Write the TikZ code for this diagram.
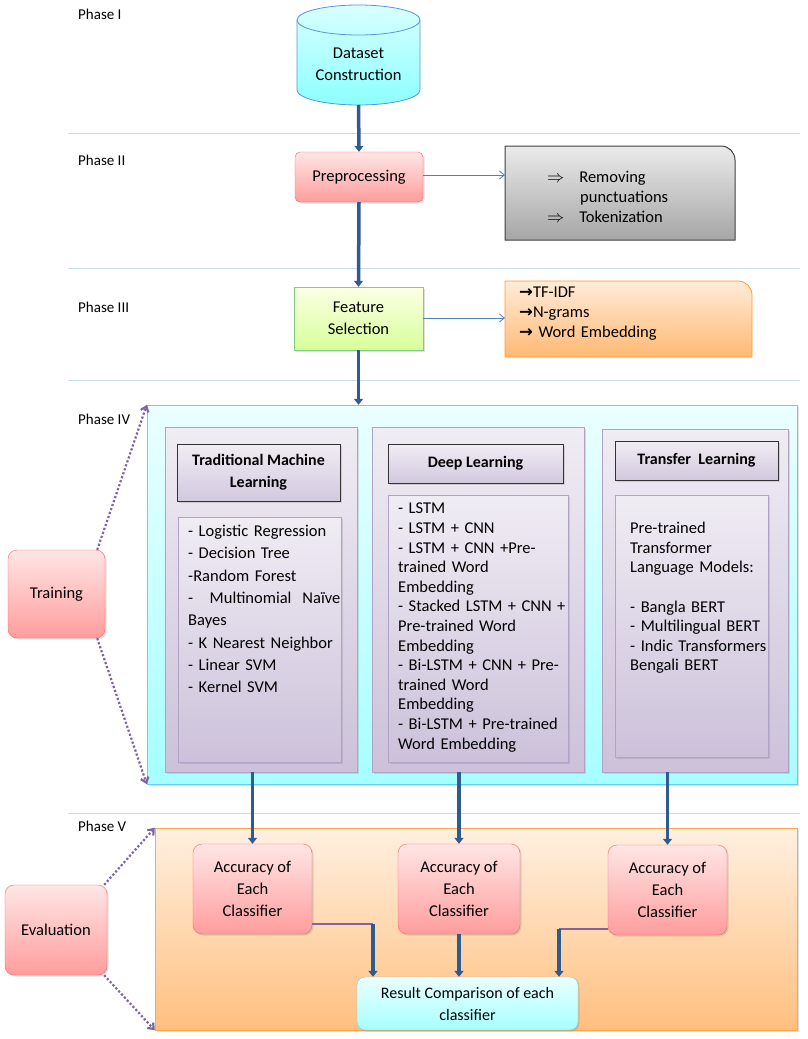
\documentclass[tikz,border=0pt]{standalone}
\usepackage{fontspec}
\setmainfont{Carlito}
\usetikzlibrary{arrows.meta,shadows,calc}
\definecolor{flow}{HTML}{2F5B8E}
\definecolor{sep}{HTML}{C9DCF0}
\definecolor{thin}{HTML}{4F81BD}
\definecolor{purp}{HTML}{8064A2}
\begin{document}
\begin{tikzpicture}[x=1pt,y=-1pt,font=\fontsize{16.5}{20}\selectfont,
  box/.style={draw,inner sep=2pt,align=center,drop shadow={opacity=0.25,shadow xshift=1.5pt,shadow yshift=-1.5pt}},
  redbox/.style={box,rounded corners=9pt,draw=red!50!pink,top color=red!10,bottom color=red!40!pink!70},
  purpbox/.style={box,draw=purp!60,top color=purp!12,bottom color=purp!40},
  hdr/.style={box,draw=black!80,line width=1pt,top color=purp!12,bottom color=purp!35,font=\fontsize{16}{22}\selectfont\bfseries},
  listtxt/.style={align=left,anchor=north west,inner sep=0pt,text width=#1},
  flowarr/.style={draw=flow,line width=3.5pt,-{Triangle[length=6pt,width=9pt]}},
  thinarr/.style={draw=thin,line width=0.8pt,-{Straight Barb[length=5pt,width=8pt]}},
  dotarr/.style={draw=purp,line width=2.2pt,dotted,-{Straight Barb[length=5pt,width=8pt]}},
  phase/.style={anchor=north west,inner sep=0pt,font=\fontsize{15}{18}\selectfont}]
\useasboundingbox (0,0) rectangle (807,1039);
% separators
\foreach \y in {133,268,380,813} \draw[sep,line width=0.8pt] (68,\y) -- (800,\y);
\node[phase] (p1) at (78,9) {Phase I};
\node[phase] (p2) at (78,155) {Phase II};
\node[phase] (p3) at (78,302) {Phase III};
\node[phase] (p4) at (78,414) {Phase IV};
\node[phase] (p5) at (78,821) {Phase V};
% cylinder
\shade[top color=cyan!15,bottom color=cyan!45,draw=cyan!60!blue!70,line width=0.8pt]
  (297,20) -- (297,90) arc[x radius=61.5,y radius=15,start angle=180,end angle=0] -- (420,20) arc[x radius=61.5,y radius=15,start angle=0,end angle=-180] -- cycle;
\draw[cyan!60!blue!70,line width=0.8pt] (297,20) arc[x radius=61.5,y radius=15,start angle=180,end angle=0];
\node[inner sep=0pt,align=center,font=\fontsize{16.5}{22}\selectfont] (ds) at (358.5,64) {Dataset\\Construction};
\coordinate (dsb) at (358.5,105);
% preprocessing
\node[redbox,minimum width=128pt,minimum height=50pt,rounded corners=5pt] (pre) at (359,177) {Preprocessing};
\shade[top color=black!8,bottom color=black!35,draw=black!75,line width=1pt]
  (505,240) -- (505,146) [rounded corners=14pt] -- (735,146) [sharp corners] -- (735,240) -- cycle;
\node[listtxt=200pt] (gray) at (547,171) {$\Rightarrow$\hspace{0.9em}Removing\\\hspace{2.0em}punctuations\\$\Rightarrow$\hspace{0.9em}Tokenization};
\coordinate (grayw) at (505,175);
\draw[thinarr] (pre.east |- grayw) -- (grayw);
\draw[flowarr] (dsb) -- (pre.north);
% feature selection
\node[box,draw=green!60!black!50,top color=green!8!yellow!10,bottom color=green!40!yellow!40,minimum width=129pt,minimum height=63pt,font=\fontsize{16.5}{22}\selectfont] (fs) at (358.5,318.5) {Feature\\Selection};
\draw[flowarr] (pre.south) -- (fs.north);
\shade[top color=orange!15,bottom color=orange!55,draw=orange!80,line width=0.8pt]
  (505,357) -- (505,281) [rounded corners=14pt] -- (752,281) [sharp corners] -- (752,357) -- cycle;
\node[listtxt=220pt] (tf) at (519,287) {{\fontspec{DejaVu Sans}\bfseries →}TF-IDF\\{\fontspec{DejaVu Sans}\bfseries →}N-grams\\{\fontspec{DejaVu Sans}\bfseries →} Word Embedding};
\coordinate (orw) at (505,318);
\draw[thinarr] (fs.east |- orw) -- (orw);
% Phase IV
\node[box,draw=cyan!60,top color=cyan!8,bottom color=cyan!35,minimum width=650pt,minimum height=379pt] (p4box) at (472,594.5) {};
\draw[flowarr] (fs.south) -- (p4box.north -| fs.south);
\node[purpbox,minimum width=192pt,minimum height=345pt] (c1) at (261,599.5) {};
\node[purpbox,minimum width=212pt,minimum height=345pt] (c2) at (478,599.5) {};
\node[purpbox,minimum width=186pt,minimum height=343pt] (c3) at (695,600.5) {};
\node[hdr,minimum width=163pt,minimum height=57pt] (h1) at (258.5,472.5) {Traditional Machine\\Learning};
\node[hdr,minimum width=175pt,minimum height=39pt] (h2) at (475.5,463.5) {Deep Learning};
\node[hdr,minimum width=163pt,minimum height=39pt] (h3) at (696.5,460.5) {Transfer\ \ Learning};
\node[purpbox,minimum width=163pt,minimum height=245pt] (l1) at (259.5,639.5) {};
\node[purpbox,minimum width=180pt,minimum height=267pt] (l2) at (478,628.5) {};
\node[purpbox,minimum width=153pt,minimum height=262pt] (l3) at (691.5,626) {};
\node[listtxt=155pt,font=\fontsize{16.5}{22.3}\selectfont] (t1) at (188,525) {- Logistic Regression\\- Decision Tree\\-Random Forest\\-\ \ \ Multinomial\ \ Naïve\\Bayes\\- K Nearest Neighbor\\- Linear SVM\\- Kernel SVM};
\node[listtxt=175pt,font=\fontsize{16.5}{19.6}\selectfont] (t2) at (398,503) {- LSTM\\- LSTM + CNN\\- LSTM + CNN +Pre-\\trained Word\\Embedding\\- Stacked LSTM + CNN +\\Pre-trained Word\\Embedding\\- Bi-LSTM + CNN + Pre-\\trained Word\\Embedding\\- Bi-LSTM + Pre-trained\\Word Embedding};
\node[listtxt=155pt,font=\fontsize{16.5}{19.6}\selectfont] (t3) at (630,522) {Pre-trained\\Transformer\\Language Models:\\[19.6pt]- Bangla BERT\\- Multilingual BERT\\- Indic Transformers\\Bengali BERT};
\node[redbox,minimum width=97pt,minimum height=88pt] (train) at (56.5,594) {Training};
\draw[dotarr] (train.north east) ++(-8,0) -- (p4box.north west);
\draw[dotarr] (train.south east) ++(-8,0) -- (p4box.south west);
% Phase V
\node[box,draw=orange!70,top color=orange!12,bottom color=orange!50,minimum width=642pt,minimum height=202pt] (p5box) at (476,929) {};
\node[redbox,minimum width=119pt,minimum height=90pt,font=\fontsize{16.5}{22}\selectfont] (a1) at (252.5,889) {Accuracy of\\Each\\Classifier};
\node[redbox,minimum width=122pt,minimum height=90pt,font=\fontsize{16.5}{22}\selectfont] (a2) at (459,889) {Accuracy of\\Each\\Classifier};
\node[redbox,minimum width=119pt,minimum height=90pt,font=\fontsize{16.5}{22}\selectfont] (a3) at (667.5,890) {Accuracy of\\Each\\Classifier};
\draw[flowarr] (c1.south -| a1) -- (a1.north);
\draw[flowarr] (c2.south -| a2) -- (a2.north);
\draw[flowarr] (c3.south -| a3) -- (a3.north);
\node[box,rounded corners=8pt,draw=cyan!60,top color=cyan!8,bottom color=cyan!35,minimum width=221pt,minimum height=53pt,font=\fontsize{16}{22}\selectfont] (res) at (467.5,1003.5) {Result Comparison of each\\classifier};
\coordinate (k1) at (373,924);
\coordinate (k3) at (559,929);
\draw[purp,line width=2.5pt] (a1.east |- k1) -- (k1);
\draw[flowarr] (k1) -- (k1 |- res.north);
\draw[flowarr] (a2.south) -- (res.north -| a2.south);
\draw[purp,line width=2.5pt] (a3.west |- k3) -- (k3);
\draw[flowarr] (k3) -- (k3 |- res.north);
\node[redbox,minimum width=102pt,minimum height=90pt] (eval) at (56,930) {Evaluation};
\draw[dotarr] (eval.north east) ++(-3,0) -- (p5box.north west);
\draw[dotarr] (eval.south east) ++(-3,0) -- (p5box.south west);
\end{tikzpicture}
\end{document}
